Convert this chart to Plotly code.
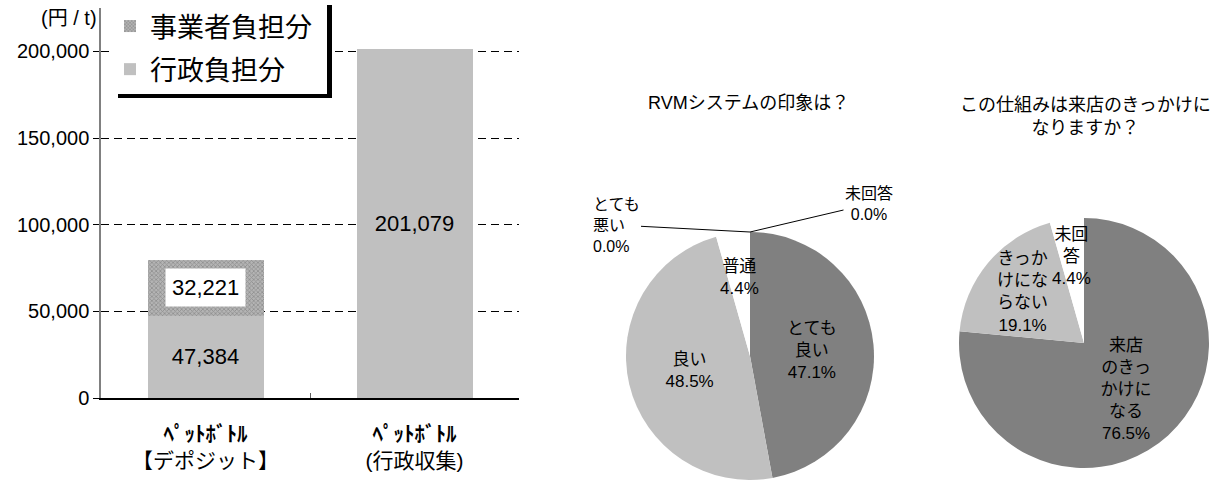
import math
import plotly.graph_objects as go

# ---- data -------------------------------------------------------------
categories = ["<b>ﾍﾟｯﾄﾎﾞﾄﾙ</b><br>【デポジット】", "<b>ﾍﾟｯﾄﾎﾞﾄﾙ</b><br>(行政収集)"]
gyosei_cost = [47384, 201079]      # 行政負担分 (円/t)
jigyosha_cost = [32221, None]      # 事業者負担分 (円/t)
y_ticks = [0, 50000, 100000, 150000, 200000]

pie1_title = "RVMシステムの印象は？"
pie1_labels = ["とても<br>良い", "良い", "普通", "とても<br>悪い", "未回答"]
pie1_values = [47.1, 48.5, 4.4, 0.0, 0.0]

pie2_title = "この仕組みは来店のきっかけに<br>なりますか？"
pie2_labels = ["来店<br>のきっ<br>かけに<br>なる", "きっか<br>けにな<br>らない", "未回<br>答"]
pie2_values = [76.5, 19.1, 4.4]

# ---- layout helpers ---------------------------------------------------
W, H = 1216, 480
FONT = "Liberation Sans, Noto Sans CJK JP, sans-serif"


def px_x(p):
    return p / W


def px_y(p):
    return 1 - p / H


DARK = "#808080"
LIGHT = "#c0c0c0"
PALE = "#e2e2e2"
PIE_FONT = 17

fig = go.Figure()

# ---- stacked bar chart ------------------------------------------------
fig.add_trace(go.Bar(
    x=categories, y=gyosei_cost, name="行政負担分",
    marker=dict(color=LIGHT, line=dict(width=0)),
    text=[f"{v:,}" for v in gyosei_cost],
    textposition="inside", insidetextanchor="middle",
    textfont=dict(size=22, color="black", family=FONT),
    legendgroup="g2", legendrank=2,
))
fig.add_trace(go.Bar(
    x=categories, y=jigyosha_cost, name="事業者負担分",
    marker=dict(color="#a0a0a0", line=dict(width=0),
                pattern=dict(shape="x", fgcolor="#6a6a6a", bgcolor="#b4b4b4",
                             size=3, solidity=0.45)),
    textposition="none",
    legendgroup="g1", legendrank=1,
))

# value box on the stacked segment
for cat, base, val in zip(categories, gyosei_cost, jigyosha_cost):
    if val:
        fig.add_annotation(
            x=cat, y=base + val / 2, xref="x", yref="y",
            xanchor="center", yanchor="middle",
            text=f"{val:,}", showarrow=False, bgcolor="white", borderpad=6,
            font=dict(size=22, color="black", family=FONT),
        )

# ---- pie charts -------------------------------------------------------
pie1_dom = dict(x=[px_x(625), px_x(875)], y=[0.0, px_y(232)])
pie2_dom = dict(x=[px_x(959), px_x(1209)], y=[px_y(468), px_y(218)])


def small_slice_positions(values):
    # slices below 10% get their label placed as an annotation
    return ["none" if v < 10 else "inside" for v in values]


fig.add_trace(go.Pie(
    labels=pie1_labels, values=pie1_values, sort=False, direction="clockwise",
    rotation=0, domain=pie1_dom, showlegend=False,
    marker=dict(colors=[DARK, LIGHT, PALE, PALE, PALE],
                pattern=dict(shape=["", "", ".", ".", "."], fgcolor="#ffffff",
                             size=4, solidity=0.3)),
    texttemplate="%{label}<br>%{percent:.1%}",
    textposition=small_slice_positions(pie1_values),
    insidetextorientation="horizontal",
    textfont=dict(size=PIE_FONT, color="black", family=FONT),
    hoverinfo="label+percent",
))
fig.add_trace(go.Pie(
    labels=pie2_labels, values=pie2_values, sort=False, direction="clockwise",
    rotation=0, domain=pie2_dom, showlegend=False,
    marker=dict(colors=[DARK, LIGHT, PALE],
                pattern=dict(shape=["", "", "."], fgcolor="#ffffff",
                             size=4, solidity=0.3)),
    texttemplate="%{label}<br>%{percent:.1%}",
    textposition=small_slice_positions(pie2_values),
    insidetextorientation="horizontal",
    textfont=dict(size=PIE_FONT, color="black", family=FONT),
    hoverinfo="label+percent",
))


def pie_geometry(dom):
    x0, x1 = dom["x"][0] * W, dom["x"][1] * W
    y0, y1 = (1 - dom["y"][1]) * H, (1 - dom["y"][0]) * H
    r = min(x1 - x0, y1 - y0) / 2
    return (x0 + x1) / 2, (y0 + y1) / 2, r


def label_small_slices(labels, values, dom, rfac):
    cx, cy, r = pie_geometry(dom)
    total = sum(values)
    cum = 0.0
    for lab, v in zip(labels, values):
        if 0 < v < 10:
            mid = (cum + v / 2) / total * 2 * math.pi
            tx = cx + rfac * r * math.sin(mid)
            ty = cy - rfac * r * math.cos(mid)
            fig.add_annotation(
                x=px_x(tx), y=px_y(ty), xref="paper", yref="paper",
                xanchor="center", yanchor="middle",
                text=f"{lab}<br>{v / total:.1%}", showarrow=False,
                font=dict(size=PIE_FONT, color="black", family=FONT),
            )
        cum += v


label_small_slices(pie1_labels, pie1_values, pie1_dom, 0.64)
label_small_slices(pie2_labels, pie2_values, pie2_dom, 0.70)

# pie titles
fig.add_annotation(x=px_x(748), y=px_y(103), xref="paper", yref="paper",
                   xanchor="center", yanchor="middle",
                   text=pie1_title, showarrow=False,
                   font=dict(size=18, color="black", family=FONT))
fig.add_annotation(x=px_x(1085), y=px_y(116), xref="paper", yref="paper",
                   xanchor="center", yanchor="middle",
                   text=pie2_title, showarrow=False,
                   font=dict(size=18, color="black", family=FONT))

# zero-share slices of the first pie: labels with leader lines to the pie top
pie1_cx = (pie1_dom["x"][0] + pie1_dom["x"][1]) / 2
pie1_top = pie1_dom["y"][1]
total1 = sum(pie1_values)
zero_offsets = {3: (-134, -7, "left"), 4: (119, -28, "center")}
for i, (ax, ay, al) in zero_offsets.items():
    fig.add_annotation(
        x=pie1_cx, y=pie1_top, xref="paper", yref="paper",
        ax=ax, ay=ay, axref="pixel", ayref="pixel",
        text=f"{pie1_labels[i]}<br>{pie1_values[i] / total1:.1%}",
        align=al, showarrow=True, arrowhead=0, arrowwidth=1,
        arrowcolor="black", standoff=0,
        font=dict(size=16, color="black", family=FONT),
    )

# ---- legend frame with drop shadow -----------------------------------
fig.add_shape(type="rect", xref="paper", yref="paper",
              x0=px_x(118), x1=px_x(332), y0=px_y(98), y1=px_y(5),
              fillcolor="black", line=dict(width=0), layer="above")
fig.add_shape(type="rect", xref="paper", yref="paper",
              x0=px_x(112), x1=px_x(327), y0=px_y(94), y1=px_y(-2),
              fillcolor="white", line=dict(width=0), layer="above")

# unit label
fig.add_annotation(x=px_x(99), y=px_y(18), xref="paper", yref="paper",
                   text="(円 / t)", showarrow=False,
                   xanchor="right", yanchor="middle",
                   font=dict(size=20, color="black", family=FONT))

fig.update_layout(
    width=W, height=H,
    margin=dict(l=0, r=0, t=0, b=0, autoexpand=False),
    paper_bgcolor="white", plot_bgcolor="white",
    barmode="stack", bargap=0.445,
    font=dict(family=FONT, color="black"),
    uniformtext=dict(minsize=PIE_FONT, mode="show"),
    legend=dict(
        x=px_x(110), y=px_y(2), xanchor="left", yanchor="top",
        bgcolor="rgba(0,0,0,0)", borderwidth=0,
        traceorder="grouped", tracegroupgap=5,
        font=dict(size=27, color="black", family=FONT),
    ),
    xaxis=dict(
        domain=[px_x(101), px_x(519)], automargin=False,
        showline=True, linecolor="black", linewidth=1.5,
        ticks="inside", tickson="boundaries", ticklen=5, tickcolor="#606060",
        tickfont=dict(size=21, color="black", family=FONT),
        ticklabelstandoff=16,
        showgrid=False,
    ),
    yaxis=dict(
        domain=[px_y(398), px_y(8)], range=[0, 225000], automargin=False,
        tickvals=y_ticks, tickformat=",",
        showline=True, linecolor="#808080", linewidth=1.5,
        ticks="outside", ticklen=6, tickcolor="black",
        tickfont=dict(size=20, color="black", family=FONT),
        showgrid=True, gridcolor="black", gridwidth=1, griddash="8px,5px",
        zeroline=False,
    ),
)

fig.write_html("out.html")
